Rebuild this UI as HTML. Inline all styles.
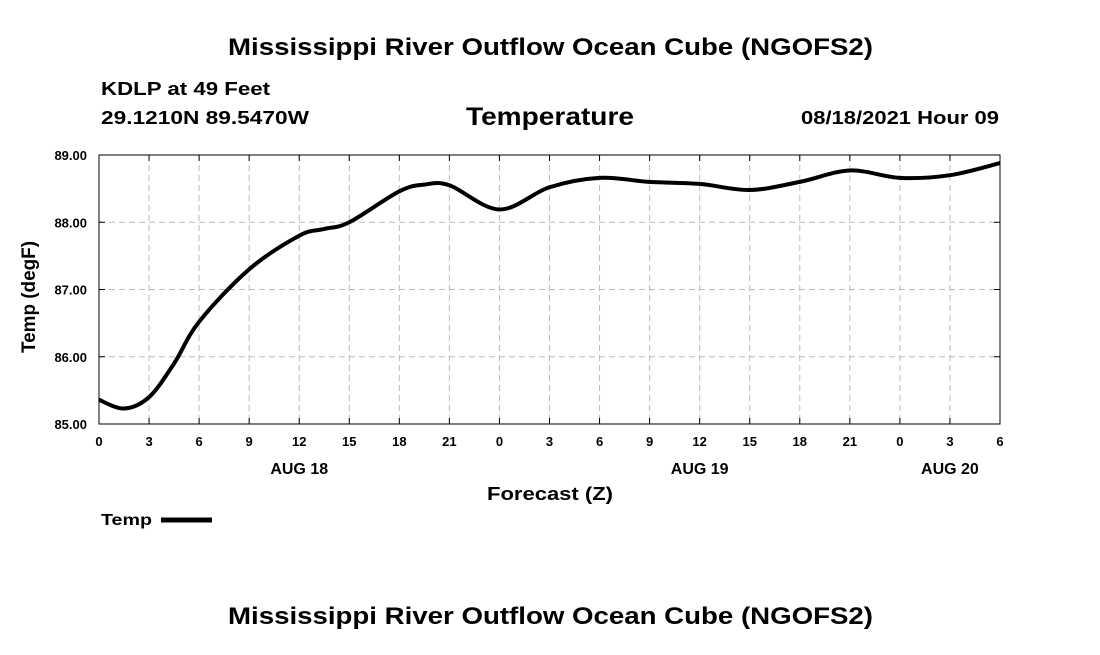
<!DOCTYPE html>
<html><head><meta charset="utf-8"><style>
body{margin:0;background:#fff;}
svg text{font-family:"Liberation Sans",sans-serif;font-weight:bold;fill:#000;}
</style></head><body>
<svg width="1100" height="650" xmlns="http://www.w3.org/2000/svg">
<text x="228" y="55" font-size="24" textLength="645" lengthAdjust="spacingAndGlyphs">Mississippi River Outflow Ocean Cube (NGOFS2)</text>
<text x="101" y="95" font-size="18" textLength="169" lengthAdjust="spacingAndGlyphs">KDLP at 49 Feet</text>
<text x="101" y="124" font-size="18" textLength="208" lengthAdjust="spacingAndGlyphs">29.1210N  89.5470W</text>
<text x="466" y="125" font-size="25" textLength="168" lengthAdjust="spacingAndGlyphs">Temperature</text>
<text x="801" y="124" font-size="18" textLength="198" lengthAdjust="spacingAndGlyphs">08/18/2021 Hour 09</text>
<g id="grid"></g>
<g id="axes"></g>
<path id="line" fill="none" stroke="#000" stroke-width="4"/>
<text x="0" y="0" font-size="19" text-anchor="middle" textLength="112" lengthAdjust="spacingAndGlyphs" transform="translate(35 297) rotate(-90)">Temp (degF)</text>
<text x="487" y="500" font-size="18" textLength="126" lengthAdjust="spacingAndGlyphs">Forecast (Z)</text>
<g>
<text x="101" y="525" font-size="16" textLength="51" lengthAdjust="spacingAndGlyphs">Temp</text>
<line x1="161" y1="520" x2="212" y2="520" stroke="#000" stroke-width="5"/>
</g>
<text x="228" y="624" font-size="24" textLength="645" lengthAdjust="spacingAndGlyphs">Mississippi River Outflow Ocean Cube (NGOFS2)</text>
</svg>
<script>
const hours=[0,1.5,3,4.5,6,9,12,13.5,15,18,19.5,21,24,27,30,33,36,39,42,45,48,51,54];
const temps=[85.36,85.23,85.4,85.9,86.52,87.3,87.8,87.9,88.0,88.46,88.56,88.55,88.19,88.52,88.66,88.6,88.57,88.48,88.6,88.77,88.66,88.7,88.88];
const yTicks=[85,86,87,88,89];
const xTickLabels=["0","3","6","9","12","15","18","21","0","3","6","9","12","15","18","21","0","3","6"];
const dayLabels=["AUG 18","AUG 19","AUG 20"];
const dayHours=[12,36,51];
const L=99,R=1000,T=155,B=424;
const xs=h=>L+(R-L)*h/54;
const ys=v=>B-(B-T)*(v-85)/4;
const NS="http://www.w3.org/2000/svg";
const grid=document.getElementById('grid'),axes=document.getElementById('axes');
function mk(tag,attrs,parent){const e=document.createElementNS(NS,tag);for(const k in attrs)e.setAttribute(k,attrs[k]);parent.appendChild(e);return e;}
xTickLabels.forEach((t,i)=>{const x=xs(i*3);
 if(i>0&&i<18){const g=mk('line',{x1:x,x2:x,y1:T,y2:B,stroke:'#bbb','stroke-dasharray':'6,4'},grid);}
 mk('line',{x1:x,x2:x,y1:B,y2:B-6,stroke:'#000'},axes);mk('line',{x1:x,x2:x,y1:T,y2:T+6,stroke:'#000'},axes);
 const tx=mk('text',{x:x,y:B+22,'font-size':13,'text-anchor':'middle'},axes);tx.textContent=t;
 });
dayLabels.forEach((d,i)=>{const tx=mk('text',{x:xs(dayHours[i]),y:B+50,'font-size':16,'text-anchor':'middle'},axes);tx.textContent=d;
 });
yTicks.forEach(v=>{const y=ys(v);
 if(v>85&&v<89){const g=mk('line',{x1:L,x2:R,y1:y,y2:y,stroke:'#bbb','stroke-dasharray':'6,4'},grid);}
 mk('line',{x1:L,x2:L+6,y1:y,y2:y,stroke:'#000'},axes);mk('line',{x1:R,x2:R-6,y1:y,y2:y,stroke:'#000'},axes);
 const tx=mk('text',{x:L-12,y:y+5,'font-size':13,'text-anchor':'end'},axes);tx.textContent=v.toFixed(2);
 });
mk('rect',{x:L,y:T,width:R-L,height:B-T,fill:'none',stroke:'#000','stroke-width':1},axes);
const P=hours.map((h,i)=>[xs(h),ys(temps[i])]);
let d='M'+P[0][0]+','+P[0][1];
for(let i=0;i<P.length-1;i++){const p0=P[i-1]||P[i],p1=P[i],p2=P[i+1],p3=P[i+2]||P[i+1];
 d+=` C${p1[0]+(p2[0]-p0[0])/6},${p1[1]+(p2[1]-p0[1])/6} ${p2[0]-(p3[0]-p1[0])/6},${p2[1]-(p3[1]-p1[1])/6} ${p2[0]},${p2[1]}`;}
document.getElementById('line').setAttribute('d',d);
</script>
</body></html>
